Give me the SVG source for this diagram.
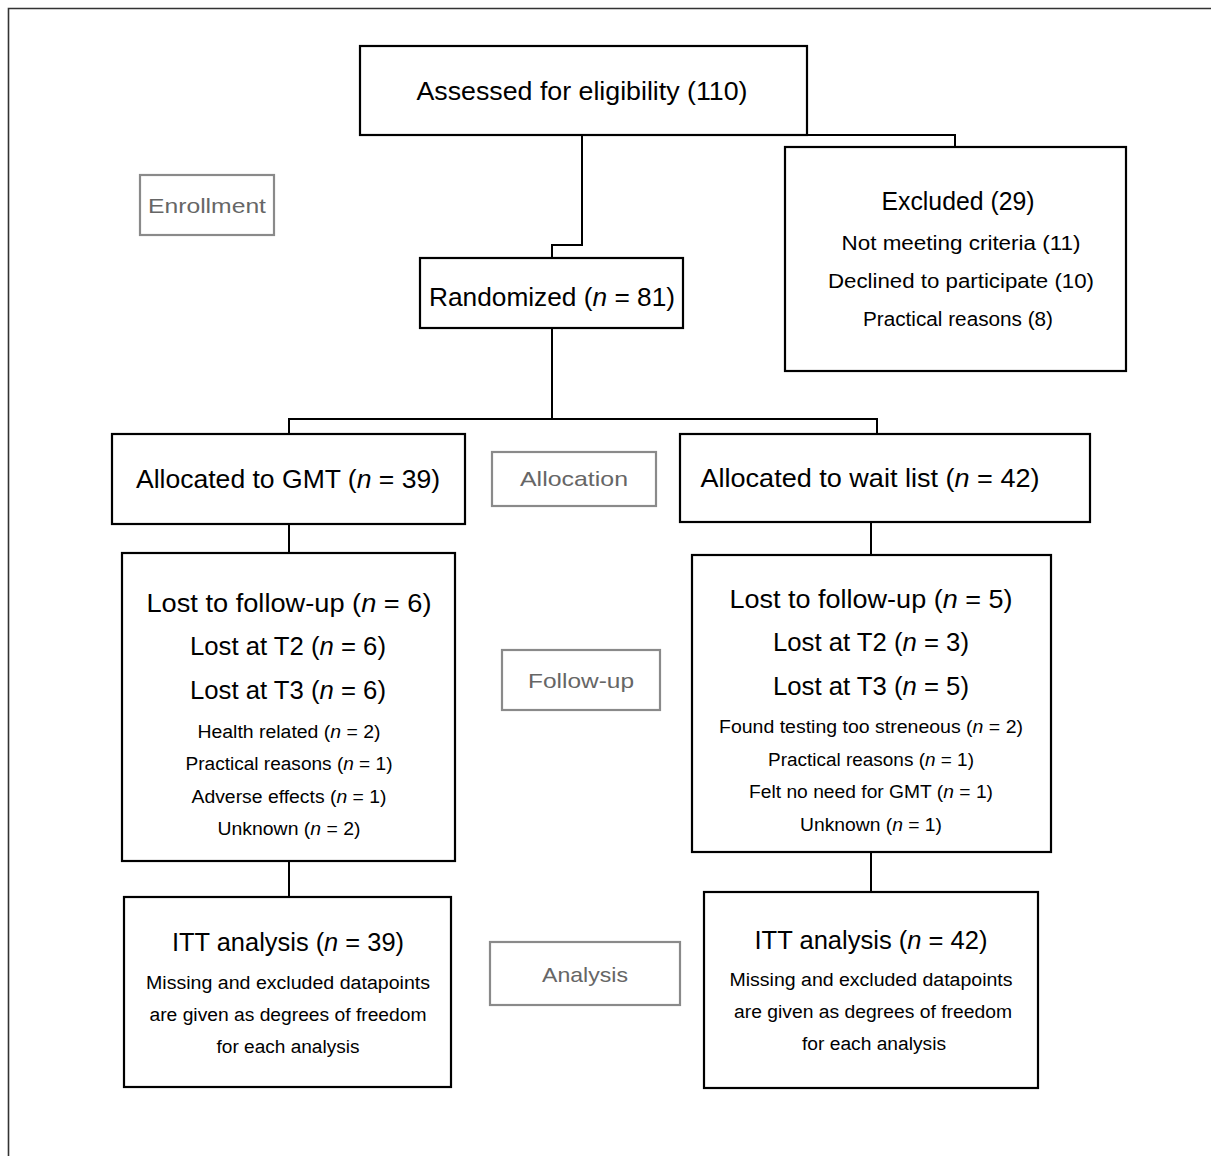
<svg xmlns="http://www.w3.org/2000/svg" width="1211" height="1156" viewBox="0 0 1211 1156">
<style>
text{font-family:"Liberation Sans",Arial,sans-serif;text-anchor:middle;fill:#000}
.box{fill:#fff;stroke:#000;stroke-width:2.2}
.lab{fill:#fff;stroke:#8a8a8a;stroke-width:2.2}
.lt{fill:#666;font-size:21px}
.L{font-size:25px}
.M{font-size:20px}
.S{font-size:18px}
.i{font-style:italic}
.con{fill:none;stroke:#000;stroke-width:2}
</style>
<rect width="1211" height="1156" fill="#fff"/>
<path d="M8.5 1156V8.5H1211" fill="none" stroke="#333" stroke-width="1.6"/>
<g id="connectors">
<path class="con" d="M582 135V245H552V258"/>
<path class="con" d="M807 135H955V147"/>
<path class="con" d="M552 328V419M289 434V419H877V434"/>
<path class="con" d="M289 524V553M871 522V555"/>
<path class="con" d="M289 861V897M871 852V892"/>
</g>
<g id="enrollment"><rect class="lab" x="140" y="175" width="134" height="60"/><text class="lt" x="207" y="213" textLength="118" lengthAdjust="spacingAndGlyphs">Enrollment</text></g>
<g id="assessed"><rect class="box" x="360" y="46" width="447" height="89"/><text class="L" x="582" y="100" textLength="331" lengthAdjust="spacingAndGlyphs">Assessed for eligibility (110)</text></g>
<g id="excluded"><rect class="box" x="785" y="147" width="341" height="224"/>
<text class="L" x="958" y="210" textLength="153" lengthAdjust="spacingAndGlyphs">Excluded (29)</text>
<text class="M" x="961" y="250" textLength="239" lengthAdjust="spacingAndGlyphs">Not meeting criteria (11)</text>
<text class="M" x="961" y="288" textLength="266" lengthAdjust="spacingAndGlyphs">Declined to participate (10)</text>
<text class="M" x="958" y="326" textLength="190" lengthAdjust="spacingAndGlyphs">Practical reasons (8)</text></g>
<g id="randomized"><rect class="box" x="420" y="258" width="263" height="70"/><text class="L" x="552" y="306" textLength="246" lengthAdjust="spacingAndGlyphs">Randomized (<tspan class="i">n</tspan> = 81)</text></g>
<g id="alloc-gmt"><rect class="box" x="112" y="434" width="353" height="90"/><text class="L" x="288" y="488" textLength="304" lengthAdjust="spacingAndGlyphs">Allocated to GMT (<tspan class="i">n</tspan> = 39)</text></g>
<g id="allocation"><rect class="lab" x="492" y="452" width="164" height="54"/><text class="lt" x="574" y="486" textLength="108" lengthAdjust="spacingAndGlyphs">Allocation</text></g>
<g id="alloc-wait"><rect class="box" x="680" y="434" width="410" height="88"/><text class="L" x="870" y="487" textLength="339" lengthAdjust="spacingAndGlyphs">Allocated to wait list (<tspan class="i">n</tspan> = 42)</text></g>
<g id="followup-gmt"><rect class="box" x="122" y="553" width="333" height="308"/>
<text class="L" x="289" y="612" textLength="285" lengthAdjust="spacingAndGlyphs">Lost to follow-up (<tspan class="i">n</tspan> = 6)</text>
<text class="L" x="288" y="655" textLength="196" lengthAdjust="spacingAndGlyphs">Lost at T2 (<tspan class="i">n</tspan> = 6)</text>
<text class="L" x="288" y="699" textLength="196" lengthAdjust="spacingAndGlyphs">Lost at T3 (<tspan class="i">n</tspan> = 6)</text>
<text class="S" x="289" y="738" textLength="183" lengthAdjust="spacingAndGlyphs">Health related (<tspan class="i">n</tspan> = 2)</text>
<text class="S" x="289" y="770" textLength="207" lengthAdjust="spacingAndGlyphs">Practical reasons (<tspan class="i">n</tspan> = 1)</text>
<text class="S" x="289" y="803" textLength="195" lengthAdjust="spacingAndGlyphs">Adverse effects (<tspan class="i">n</tspan> = 1)</text>
<text class="S" x="289" y="835" textLength="143" lengthAdjust="spacingAndGlyphs">Unknown (<tspan class="i">n</tspan> = 2)</text></g>
<g id="followup"><rect class="lab" x="502" y="650" width="158" height="60"/><text class="lt" x="581" y="688" textLength="106" lengthAdjust="spacingAndGlyphs">Follow-up</text></g>
<g id="followup-wait"><rect class="box" x="692" y="555" width="359" height="297"/>
<text class="L" x="871" y="608" textLength="283" lengthAdjust="spacingAndGlyphs">Lost to follow-up (<tspan class="i">n</tspan> = 5)</text>
<text class="L" x="871" y="651" textLength="196" lengthAdjust="spacingAndGlyphs">Lost at T2 (<tspan class="i">n</tspan> = 3)</text>
<text class="L" x="871" y="695" textLength="196" lengthAdjust="spacingAndGlyphs">Lost at T3 (<tspan class="i">n</tspan> = 5)</text>
<text class="S" x="871" y="733" textLength="304" lengthAdjust="spacingAndGlyphs">Found testing too streneous (<tspan class="i">n</tspan> = 2)</text>
<text class="S" x="871" y="766" textLength="206" lengthAdjust="spacingAndGlyphs">Practical reasons (<tspan class="i">n</tspan> = 1)</text>
<text class="S" x="871" y="798" textLength="244" lengthAdjust="spacingAndGlyphs">Felt no need for GMT (<tspan class="i">n</tspan> = 1)</text>
<text class="S" x="871" y="831" textLength="142" lengthAdjust="spacingAndGlyphs">Unknown (<tspan class="i">n</tspan> = 1)</text></g>
<g id="analysis-gmt"><rect class="box" x="124" y="897" width="327" height="190"/>
<text class="L" x="288" y="951" textLength="232" lengthAdjust="spacingAndGlyphs">ITT analysis (<tspan class="i">n</tspan> = 39)</text>
<text class="S" x="288" y="989" textLength="284" lengthAdjust="spacingAndGlyphs">Missing and excluded datapoints</text>
<text class="S" x="288" y="1021" textLength="277" lengthAdjust="spacingAndGlyphs">are given as degrees of freedom</text>
<text class="S" x="288" y="1053" textLength="143" lengthAdjust="spacingAndGlyphs">for each analysis</text></g>
<g id="analysis"><rect class="lab" x="490" y="942" width="190" height="63"/><text class="lt" x="585" y="982" textLength="86" lengthAdjust="spacingAndGlyphs">Analysis</text></g>
<g id="analysis-wait"><rect class="box" x="704" y="892" width="334" height="196"/>
<text class="L" x="871" y="949" textLength="233" lengthAdjust="spacingAndGlyphs">ITT analysis (<tspan class="i">n</tspan> = 42)</text>
<text class="S" x="871" y="986" textLength="283" lengthAdjust="spacingAndGlyphs">Missing and excluded datapoints</text>
<text class="S" x="873" y="1018" textLength="278" lengthAdjust="spacingAndGlyphs">are given as degrees of freedom</text>
<text class="S" x="874" y="1050" textLength="144" lengthAdjust="spacingAndGlyphs">for each analysis</text></g>
</svg>
